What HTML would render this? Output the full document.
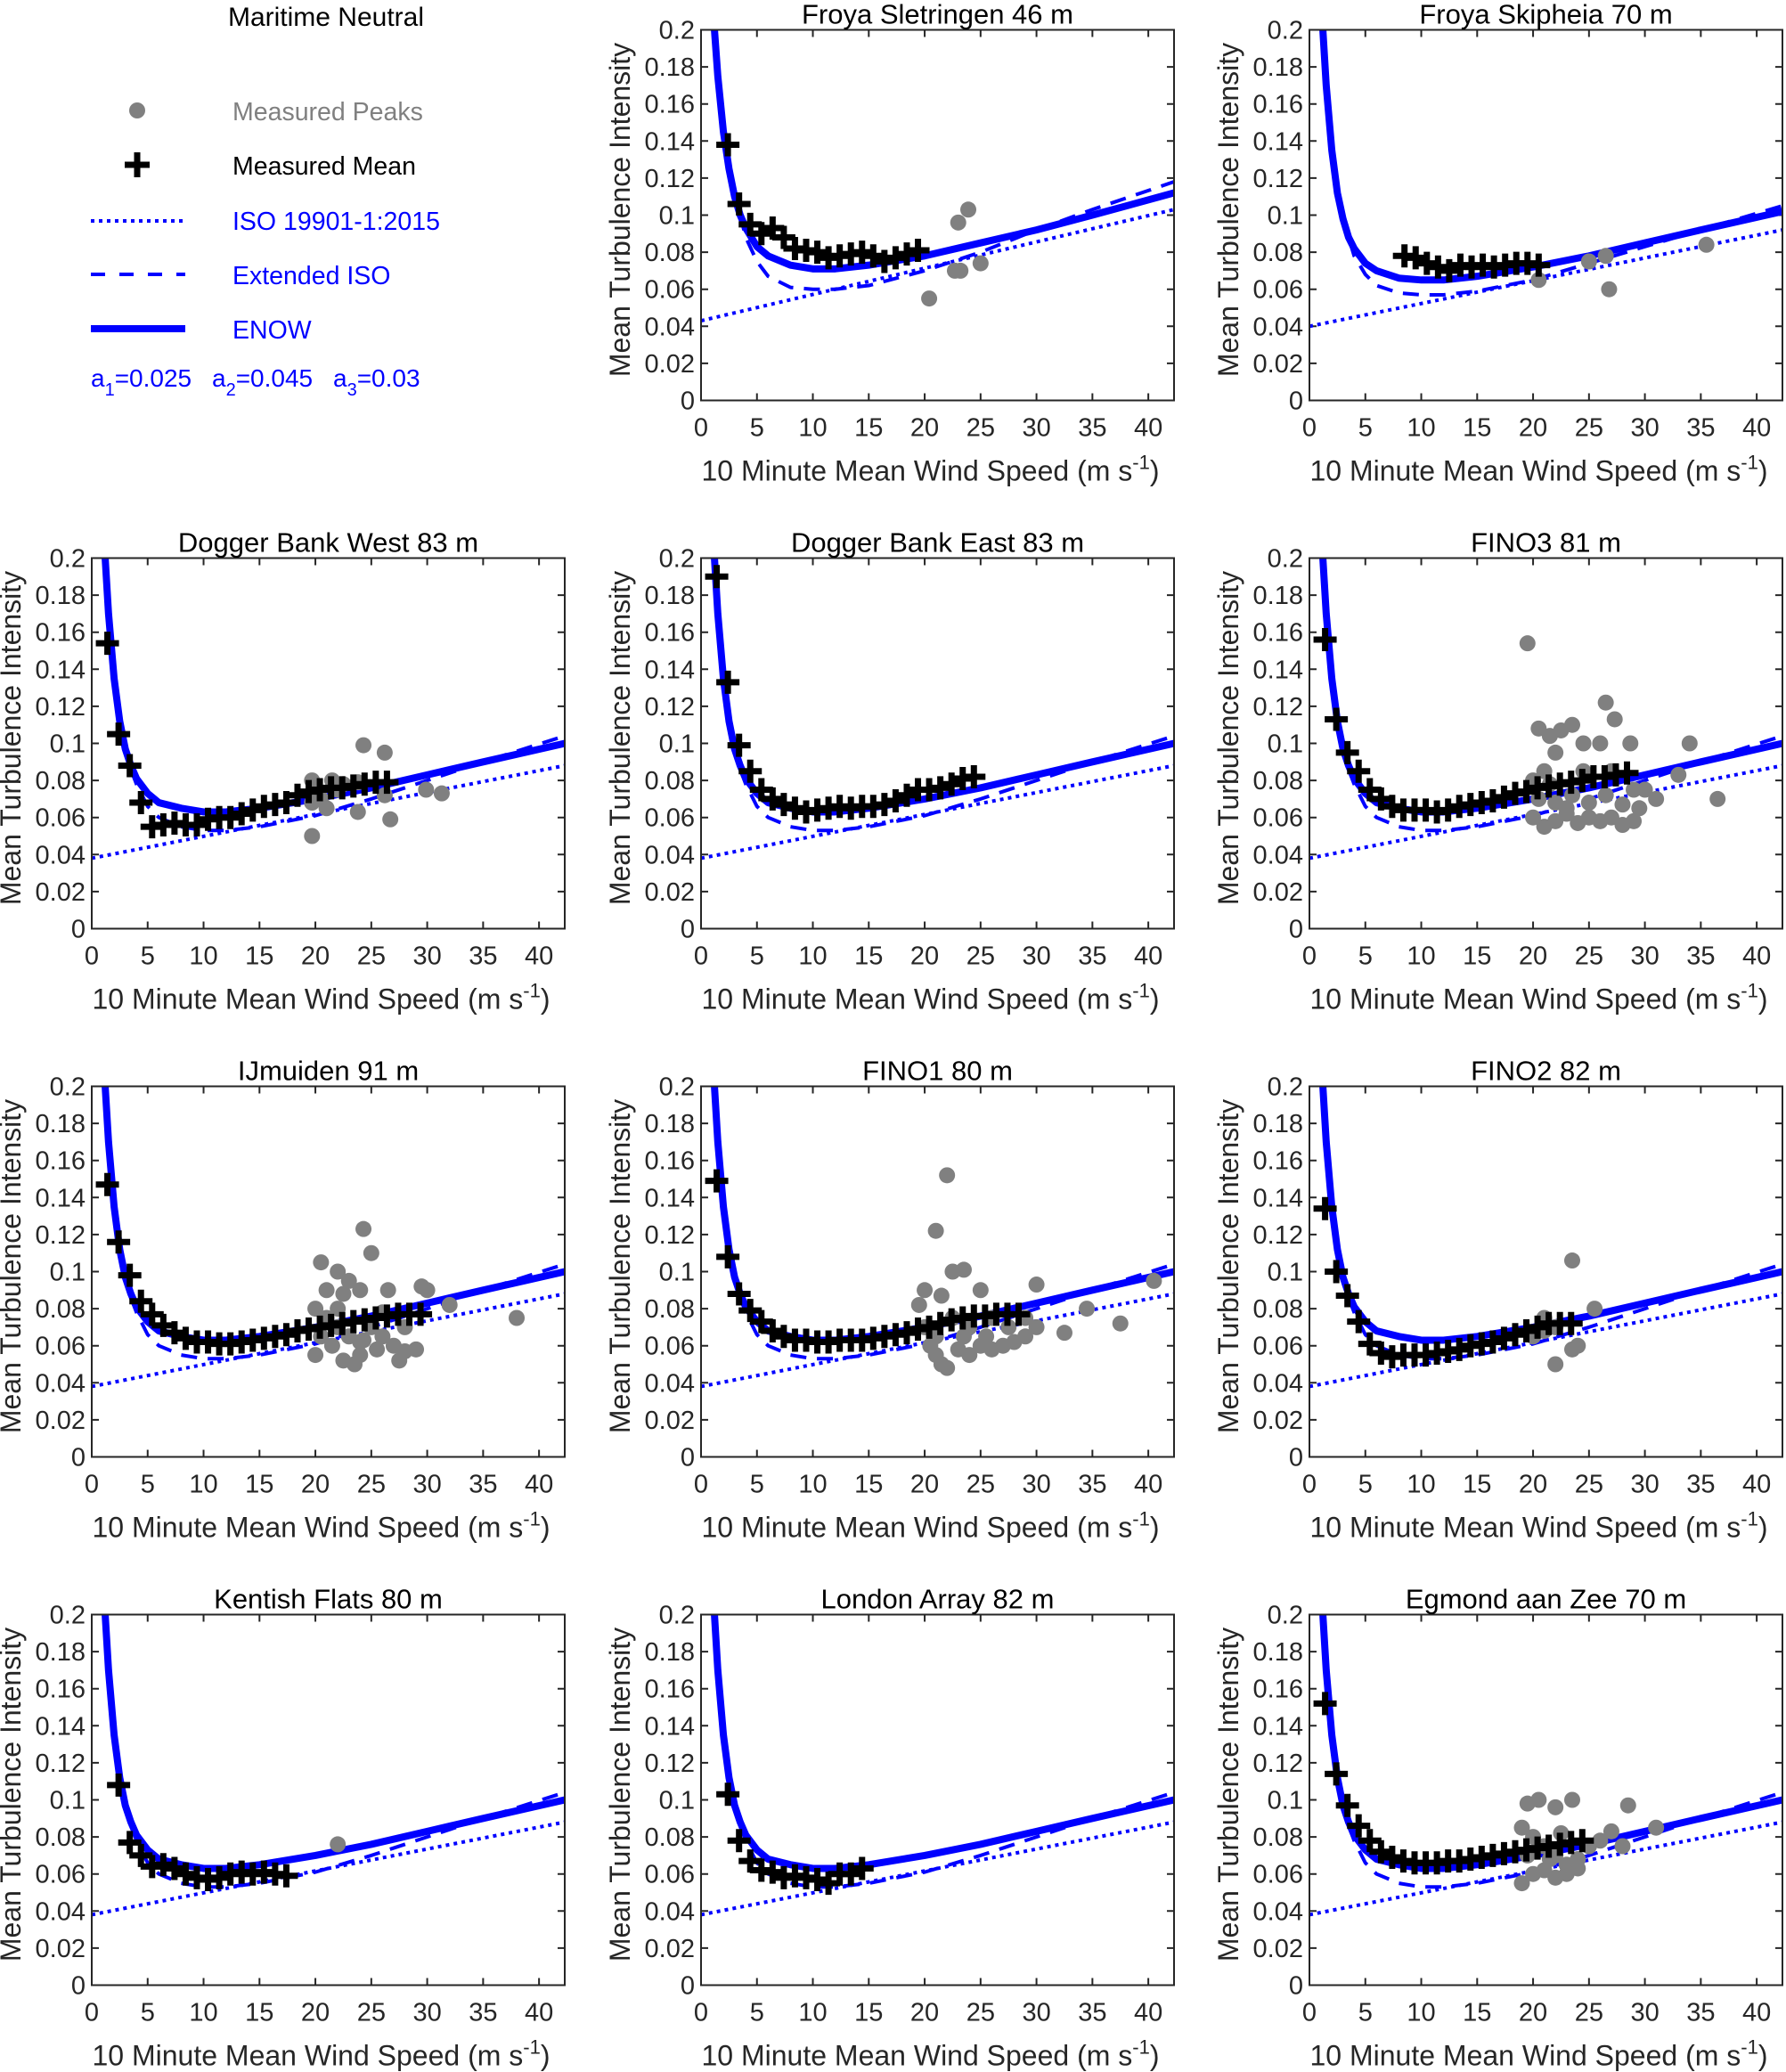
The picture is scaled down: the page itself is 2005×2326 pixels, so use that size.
<!DOCTYPE html>
<html><head><meta charset="utf-8"><style>
html,body{margin:0;padding:0;background:#fff}
svg{display:block;font-family:"Liberation Sans",sans-serif}
</style></head><body>
<svg id="fig" width="2005" height="2326" viewBox="0 0 2005 2326" xmlns="http://www.w3.org/2000/svg">
<g>
<text x="366" y="29" font-size="30" text-anchor="middle" fill="#000">Maritime Neutral</text>
<circle cx="154" cy="124" r="9" fill="#808080"/>
<text x="261" y="135" font-size="28.5" fill="#808080">Measured Peaks</text>
<path d="M140 185 H168 M154 171 V199" stroke="#000" stroke-width="7"/>
<text x="261" y="196" font-size="28.5" fill="#000">Measured Mean</text>
<line x1="102" y1="248" x2="208" y2="248" stroke="#0000ff" stroke-width="4" stroke-dasharray="4 5"/>
<text x="261" y="258" font-size="28.5" fill="#0000ff">ISO 19901-1:2015</text>
<line x1="102" y1="308" x2="208" y2="308" stroke="#0000ff" stroke-width="4" stroke-dasharray="16 16"/>
<text x="261" y="319" font-size="28.5" fill="#0000ff">Extended ISO</text>
<line x1="102" y1="369" x2="208" y2="369" stroke="#0000ff" stroke-width="8"/>
<text x="261" y="380" font-size="28.5" fill="#0000ff">ENOW</text>
<text x="102" y="434" font-size="28" fill="#0000ff">a<tspan font-size="20" dy="10">1</tspan><tspan dy="-10">=0.025</tspan></text>
<text x="238" y="434" font-size="28" fill="#0000ff">a<tspan font-size="20" dy="10">2</tspan><tspan dy="-10">=0.045</tspan></text>
<text x="374" y="434" font-size="28" fill="#0000ff">a<tspan font-size="20" dy="10">3</tspan><tspan dy="-10">=0.03</tspan></text>
</g>
</svg>
<script>
const titles=["Froya Sletringen 46 m","Froya Skipheia 70 m","Dogger Bank West 83 m","Dogger Bank East 83 m","FINO3 81 m","IJmuiden 91 m","FINO1 80 m","FINO2 82 m","Kentish Flats 80 m","London Array 82 m","Egmond aan Zee 70 m"];
const panelCol=[1,2,0,1,2,0,1,2,0,1,2];
const panelRow=[0,0,1,1,1,2,2,2,3,3,3];
const xTicks=[0,5,10,15,20,25,30,35,40];
const yTicks=[0,0.02,0.04,0.06,0.08,0.1,0.12,0.14,0.16,0.18,0.2];
const yTickLabels=["0","0.02","0.04","0.06","0.08","0.1","0.12","0.14","0.16","0.18","0.2"];
const isoStart=[0.043,0.040,0.038,0.038,0.038,0.038,0.038,0.038,0.038,0.038,0.038];
const isoEnd=[0.103,0.092,0.088,0.088,0.088,0.088,0.088,0.088,0.088,0.088,0.088];
const curveU=[1.2,1.5,2,2.5,3,3.5,4,5,6,8,10,12,15,20,25,30,35,42.3];
const enowA=[0.2,0.175,0.145,0.125,0.11,0.1,0.093,0.083,0.078,0.073,0.071,0.071,0.073,0.078,0.085,0.092,0.1,0.112];
const extA=[0.2,0.175,0.145,0.125,0.11,0.1,0.088,0.075,0.067,0.061,0.060,0.060,0.062,0.070,0.080,0.092,0.103,0.118];
const enowB=[0.2,0.17,0.135,0.112,0.098,0.088,0.082,0.074,0.07,0.066,0.065,0.065,0.067,0.072,0.078,0.085,0.092,0.102];
const extB=[0.2,0.17,0.135,0.112,0.098,0.088,0.078,0.068,0.062,0.058,0.057,0.057,0.059,0.065,0.074,0.083,0.092,0.105];
const enowC=[0.2,0.17,0.135,0.112,0.097,0.088,0.081,0.073,0.068,0.065,0.063,0.063,0.065,0.070,0.076,0.083,0.090,0.100];
const extC=[0.2,0.17,0.135,0.112,0.097,0.086,0.078,0.066,0.060,0.055,0.053,0.053,0.055,0.061,0.070,0.080,0.090,0.104];
const enowSets=[enowA,enowB,enowC,enowC,enowC,enowC,enowC,enowC,enowC,enowC,enowC];
const extSets=[extA,extB,extC,extC,extC,extC,extC,extC,extC,extC,extC];
const meanU=[
[2.4,3.4,4.4,5.4,6.4,7.4,8.4,9.4,10.4,11.4,12.4,13.4,14.4,15.4,16.4,17.4,18.4,19.4],
[8.5,9.5,10.5,11.5,12.5,13.5,14.5,15.5,16.5,17.5,18.5,19.5,20.5],
[1.4,2.4,3.4,4.4,5.4,6.4,7.4,8.4,9.4,10.4,11.4,12.4,13.4,14.4,15.4,16.4,17.4,18.4,19.4,20.4,21.4,22.4,23.4,24.4,25.4,26.4],
[1.4,2.4,3.4,4.4,5.4,6.4,7.4,8.4,9.4,10.4,11.4,12.4,13.4,14.4,15.4,16.4,17.4,18.4,19.4,20.4,21.4,22.4,23.4,24.4],
[1.4,2.4,3.4,4.4,5.4,6.4,7.4,8.4,9.4,10.4,11.4,12.4,13.4,14.4,15.4,16.4,17.4,18.4,19.4,20.4,21.4,22.4,23.4,24.4,25.4,26.4,27.4,28.4],
[1.4,2.4,3.4,4.4,5.4,6.4,7.4,8.4,9.4,10.4,11.4,12.4,13.4,14.4,15.4,16.4,17.4,18.4,19.4,20.4,21.4,22.4,23.4,24.4,25.4,26.4,27.4,28.4,29.4],
[1.4,2.4,3.4,4.4,5.4,6.4,7.4,8.4,9.4,10.4,11.4,12.4,13.4,14.4,15.4,16.4,17.4,18.4,19.4,20.4,21.4,22.4,23.4,24.4,25.4,26.4,27.4,28.4],
[1.4,2.4,3.4,4.4,5.4,6.4,7.4,8.4,9.4,10.4,11.4,12.4,13.4,14.4,15.4,16.4,17.4,18.4,19.4,20.4,21.4,22.4,23.4],
[2.4,3.4,4.4,5.4,6.4,7.4,8.4,9.4,10.4,11.4,12.4,13.4,14.4,15.4,16.4,17.4],
[2.4,3.4,4.4,5.4,6.4,7.4,8.4,9.4,10.4,11.4,12.4,13.4,14.4],
[1.4,2.4,3.4,4.4,5.4,6.4,7.4,8.4,9.4,10.4,11.4,12.4,13.4,14.4,15.4,16.4,17.4,18.4,19.4,20.4,21.4,22.4,23.4,24.4]];
const meanTI=[
[0.138,0.106,0.095,0.09,0.093,0.088,0.082,0.081,0.080,0.077,0.078,0.079,0.080,0.078,0.075,0.077,0.079,0.081],
[0.078,0.077,0.074,0.072,0.070,0.073,0.072,0.073,0.072,0.073,0.074,0.074,0.073],
[0.154,0.105,0.088,0.068,0.055,0.056,0.057,0.056,0.056,0.059,0.060,0.060,0.062,0.064,0.066,0.067,0.068,0.072,0.074,0.075,0.076,0.076,0.077,0.078,0.079,0.079],
[0.19,0.133,0.099,0.085,0.075,0.070,0.067,0.065,0.063,0.064,0.065,0.066,0.065,0.066,0.066,0.067,0.069,0.072,0.075,0.075,0.076,0.078,0.081,0.082],
[0.156,0.113,0.095,0.085,0.075,0.070,0.066,0.064,0.064,0.064,0.063,0.064,0.066,0.067,0.068,0.069,0.071,0.073,0.074,0.076,0.077,0.078,0.079,0.080,0.082,0.082,0.083,0.084],
[0.147,0.116,0.098,0.084,0.077,0.071,0.067,0.064,0.062,0.062,0.061,0.061,0.062,0.063,0.064,0.065,0.066,0.068,0.069,0.070,0.071,0.072,0.073,0.074,0.075,0.076,0.077,0.077,0.077],
[0.149,0.108,0.088,0.079,0.073,0.068,0.065,0.063,0.063,0.062,0.062,0.063,0.063,0.063,0.064,0.065,0.066,0.067,0.069,0.070,0.072,0.074,0.075,0.076,0.076,0.077,0.077,0.077],
[0.134,0.100,0.087,0.073,0.061,0.056,0.054,0.055,0.055,0.055,0.056,0.057,0.058,0.060,0.061,0.062,0.064,0.066,0.068,0.070,0.072,0.072,0.072],
[0.108,0.077,0.070,0.064,0.065,0.063,0.060,0.058,0.057,0.058,0.060,0.061,0.060,0.061,0.060,0.059],
[0.103,0.078,0.067,0.062,0.061,0.058,0.059,0.058,0.057,0.055,0.060,0.060,0.063],
[0.152,0.114,0.097,0.086,0.078,0.072,0.069,0.067,0.066,0.066,0.066,0.067,0.067,0.068,0.069,0.070,0.071,0.072,0.073,0.074,0.075,0.076,0.077,0.078]];
const peakU=[
[20.4,22.7,23.2,25,23,23.9],
[20.5,25,26.5,26.8,35.5],
[19.7,19.7,19.7,21,21.5,22,23.8,23.8,24.3,26.2,26.7,26.2,29.9,31.3,20.5,22.5],
[],
[19.5,20.5,21.5,22.5,23.5,22,24.5,26.5,27.3,26,28.7,34,36.5,33,31,30,20,21,20,21,22,23,24,25,26,27,28,29,20.5,22,23.5,25,26.5,28,29,23,24.5,27,29.5,21.5],
[24.3,25,20.5,22,23,21,22.5,24,26.5,29.5,30,32,38,20,21,22,23,24,25,26,27,28,29,20,21.5,22.5,24,25.5,27.5,23.5,26,28,20.5,24.3,22],
[21,22,22.5,23.5,20,21.5,25,30,40.5,34.5,37.5,32.5,20,20.5,21,21.5,22,23,24,25,26,27,28,29,22.5,24,26,27.5,29,30,19.5,25.5,23.5,21],
[20,21,22,22,23.5,23.5,24,25.5,21],
[22],
[],
[19.5,20.5,22,23.5,28.5,31,27,28,19,20,21,22,23,24,19,20,21,22,23,24,25,26,19.5,21.5,22.5]];
const peakTI=[
[0.055,0.07,0.07,0.074,0.096,0.103],
[0.065,0.075,0.078,0.06,0.084],
[0.05,0.08,0.068,0.065,0.08,0.075,0.063,0.079,0.099,0.095,0.059,0.072,0.075,0.073,0.07,0.078],
[],
[0.154,0.108,0.104,0.107,0.11,0.095,0.1,0.122,0.113,0.1,0.1,0.1,0.07,0.083,0.07,0.075,0.08,0.085,0.06,0.055,0.058,0.062,0.057,0.06,0.058,0.06,0.056,0.058,0.07,0.068,0.072,0.068,0.072,0.067,0.075,0.065,0.085,0.085,0.065,0.078],
[0.123,0.11,0.105,0.1,0.095,0.09,0.088,0.09,0.09,0.092,0.09,0.082,0.075,0.08,0.075,0.07,0.065,0.062,0.07,0.065,0.06,0.057,0.058,0.055,0.06,0.052,0.055,0.058,0.052,0.05,0.078,0.07,0.065,0.063,0.08],
[0.122,0.152,0.1,0.101,0.09,0.087,0.09,0.093,0.095,0.08,0.072,0.067,0.07,0.06,0.055,0.05,0.048,0.058,0.055,0.06,0.058,0.06,0.062,0.065,0.075,0.07,0.075,0.07,0.075,0.07,0.082,0.065,0.065,0.065],
[0.065,0.075,0.07,0.05,0.058,0.106,0.06,0.08,0.068],
[0.076],
[],
[0.098,0.1,0.096,0.1,0.097,0.085,0.083,0.075,0.085,0.08,0.075,0.07,0.065,0.068,0.055,0.06,0.062,0.058,0.06,0.063,0.075,0.078,0.07,0.068,0.082]];

const NS="http://www.w3.org/2000/svg";
const svg=document.getElementById('fig');
const colLeft=[103,787,1470], rowTop=[33.5,626.5,1219.5,1812.5], PW=531, PH=416, XMAX=42.3, YMAX=0.2;
function mk(tag,attrs,parent){const e=document.createElementNS(NS,tag);for(const k in attrs)e.setAttribute(k,attrs[k]);parent.appendChild(e);return e;}
titles.forEach((title,i)=>{
  const L=colLeft[panelCol[i]], T=rowTop[panelRow[i]];
  const sx=u=>L+u/XMAX*PW, sy=v=>T+PH-v/YMAX*PH;
  const g=mk('g',{},svg);
  
  
  const cp=mk('clipPath',{id:'clip'+i},g);
  mk('rect',{x:L,y:T,width:PW,height:PH},cp);
  xTicks.forEach(t=>{
    const x=sx(t);
    const tk=mk('path',{d:`M${x} ${T+PH}v-8M${x} ${T}v8`,stroke:'#262626','stroke-width':2},g);
    
    
    const lb=mk('text',{x:x,y:T+PH+40,'font-size':29,'text-anchor':'middle',fill:'#262626'},g);
    lb.textContent=String(t);
    
    
  });
  yTicks.forEach((t,k)=>{
    const y=sy(t);
    const tk=mk('path',{d:`M${L} ${y}h8M${L+PW} ${y}h-8`,stroke:'#262626','stroke-width':2},g);
    
    
    const lb=mk('text',{x:L-7,y:y+10,'font-size':29,'text-anchor':'end',fill:'#262626'},g);
    lb.textContent=yTickLabels[k];
    
    
  });
  const cg=mk('g',{'clip-path':`url(#clip${i})`},g);
  const iso=mk('line',{x1:sx(0),y1:sy(isoStart[i]),x2:sx(XMAX),y2:sy(isoEnd[i]),stroke:'#0000ff','stroke-width':4,'stroke-dasharray':'4 5'},cg);
  
  
  const ext=mk('polyline',{points:curveU.map((u,k)=>sx(u)+','+sy(extSets[i][k])).join(' '),fill:'none',stroke:'#0000ff','stroke-width':4,'stroke-dasharray':'18 12','stroke-linejoin':'round'},cg);
  
  
  const en=mk('polyline',{points:curveU.map((u,k)=>sx(u)+','+sy(enowSets[i][k])).join(' '),fill:'none',stroke:'#0000ff','stroke-width':8,'stroke-linejoin':'round'},cg);
  
  
  peakU[i].forEach((u,k)=>{
    const c=mk('circle',{cx:sx(u),cy:sy(peakTI[i][k]),r:9,fill:'#808080'},cg);
    
    
  });
  meanU[i].forEach((u,k)=>{
    const x=sx(u), y=sy(meanTI[i][k]);
    const p=mk('path',{d:`M${x-13} ${y}H${x+13}M${x} ${y-13}V${y+13}`,stroke:'#000','stroke-width':7},g);
    
    
  });
  const box=mk('rect',{x:L,y:T,width:PW,height:PH,fill:'none',stroke:'#262626','stroke-width':2},g);
  
  
  const tt=mk('text',{x:L+PW/2,y:T-7,'font-size':31,'text-anchor':'middle',fill:'#000'},g);
  tt.textContent=title;
  
  
  const xl=mk('text',{x:L+PW/2-8,y:T+PH+90,'font-size':32,'text-anchor':'middle',fill:'#262626'},g);
  xl.innerHTML='10 Minute Mean Wind Speed (m s<tspan font-size="22" dy="-13">-1</tspan><tspan dy="13">)</tspan>';
  
  
  const yl=mk('text',{x:0,y:0,'font-size':32,'text-anchor':'middle',fill:'#262626',transform:`translate(${L-80},${T+PH/2-6}) rotate(-90)`},g);
  yl.textContent='Mean Turbulence Intensity';
  
  
});
</script>
</body></html>
